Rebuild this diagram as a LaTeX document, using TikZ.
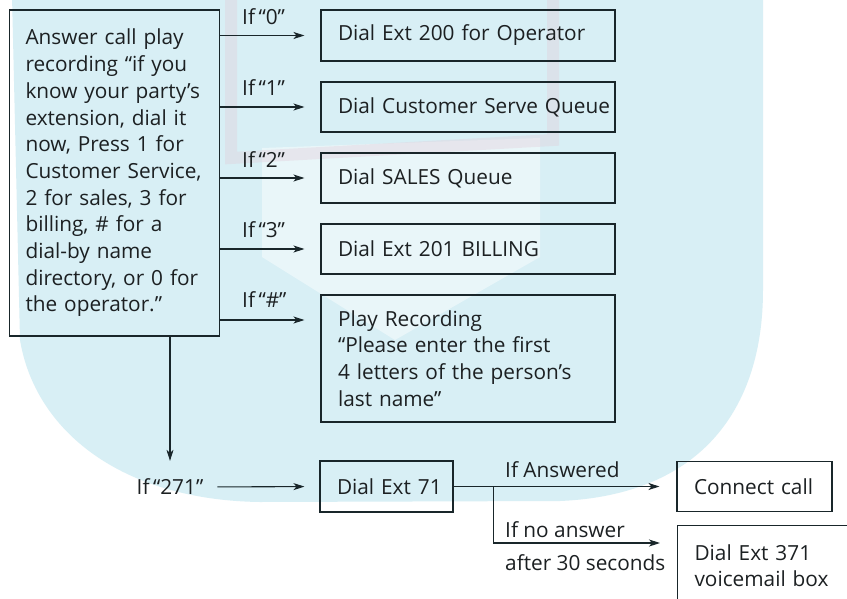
\documentclass[tikz,border=0pt]{standalone}
\usepackage{fontspec}
\setmainfont{Open Sans}
\usetikzlibrary{arrows.meta}
\definecolor{bgcyan}{RGB}{216,239,245}
\definecolor{inkline}{RGB}{25,38,42}
\definecolor{inktext}{RGB}{28,32,34}
\definecolor{markpink}{RGB}{226,196,210}

\begin{document}
\begin{tikzpicture}[x=1pt,y=-1pt,
  font=\fontsize{20.8}{26.7}\selectfont, text=inktext,
  box/.style={draw=inkline, line width=1.1pt, align=left, inner xsep=17pt, inner ysep=0pt},
  lbl/.style={inner sep=0pt, anchor=west},
  arr/.style={draw=inkline, line width=1.1pt, -{Stealth[length=11pt,width=7pt,inset=3pt]}}]

\useasboundingbox (0,0) rectangle (847,598);
\fill[white] (0,0) rectangle (847,598);

% light backdrop
\fill[bgcyan] (8,-5) -- (763,-5) -- (763,290)
  .. controls (763,410) and (700,495) .. (560,501)
  -- (260,502) .. controls (120,500) and (35,430) .. (20,340) -- (12,-5) -- cycle;
\fill[white, opacity=0.45] (262,148) -- (540,138) -- (540,257) -- (395,340) -- (262,257) -- cycle;
\draw[markpink, opacity=0.3, line width=12pt] (231,-10) -- (231,158) -- (553,140) -- (553,-10);

% menu prompt
\node[box, inner xsep=16pt, text width=178pt, minimum width=210pt, minimum height=326pt] (main) at (114.5,173)
  {\mbox{Answer call play}\\\mbox{recording “if you}\\\mbox{know your party’s}\\\mbox{extension, dial it}\\\mbox{now, Press 1 for}\\\mbox{Customer Service,}\\\mbox{2 for sales, 3 for}\\\mbox{billing, \# for a}\\\mbox{dial-by name}\\\mbox{directory, or 0 for}\\\mbox{the operator.”}};

% menu choices
\node[box, text width=260pt, minimum width=294pt, minimum height=51pt] (b1) at (468,35.5) {\mbox{Dial Ext 200 for Operator}};
\node[box, text width=260pt, minimum width=294pt, minimum height=50pt] (b2) at (468,107) {\mbox{Dial Customer Serve Queue}};
\node[box, text width=260pt, minimum width=294pt, minimum height=50pt] (b3) at (468,178) {\mbox{Dial SALES Queue}};
\node[box, text width=260pt, minimum width=294pt, minimum height=50pt] (b4) at (468,249) {\mbox{Dial Ext 201 BILLING}};
\node[box, text width=260pt, minimum width=294pt, minimum height=127pt] (b5) at (468,358.5)
  {\mbox{Play Recording}\\\mbox{“Please enter the first}\\\mbox{4 letters of the person’s}\\\mbox{last name”}};

\node[lbl] (l1) at (242,17) {If\,“0”};
\node[lbl] (l2) at (242,88) {If\,“1”};
\node[lbl] (l3) at (242,160) {If\,“2”};
\node[lbl] (l4) at (242,230) {If\,“3”};
\node[lbl] (l5) at (242,300) {If\,“\#”};

\draw[arr, shorten >=16pt] (main.east |- b1.west) -- (b1.west);
\draw[arr, shorten >=16pt] (main.east |- b2.west) -- (b2.west);
\draw[arr, shorten >=16pt] (main.east |- b3.west) -- (b3.west);
\draw[arr, shorten >=16pt] (main.east |- b4.west) -- (b4.west);
\coordinate (h5) at ([yshift=38.5pt]b5.west);
\draw[arr, shorten >=16pt] (main.east |- h5) -- (h5);

% direct extension dialling
\node[lbl, anchor=center] (t271) at (170,487) {If\,“271”};
\node[box, text width=99pt, minimum width=133pt, minimum height=51pt] (d71) at (386.5,486.5) {\mbox{Dial Ext 71}};
\node[box, text width=121pt, minimum width=155pt, minimum height=50pt] (conn) at (754.5,486.5) {\mbox{Connect call}};
\node[box, anchor=north west, text width=166pt, minimum width=200pt, minimum height=80pt] (vm) at (677,525)
  {\mbox{Dial Ext 371}\\\mbox{voicemail box}};

\draw[arr, shorten >=18pt] (main.south -| t271) -- (t271.north);
\draw[arr, shorten <=14pt, shorten >=15pt] (t271.east) -- (d71.west);
\draw[arr, shorten >=17pt] (d71.east) -- (conn.west);
\coordinate (split) at ([xshift=40pt]d71.east);
\coordinate (noans) at (660,543);
\draw[arr] (split) |- (noans);

\node[lbl] (ans) at (505,470) {If Answered};
\node[lbl] (na) at (505,530) {If no answer};
\node[lbl] (wait) at (505,563) {after 30 seconds};
\end{tikzpicture}
\end{document}
